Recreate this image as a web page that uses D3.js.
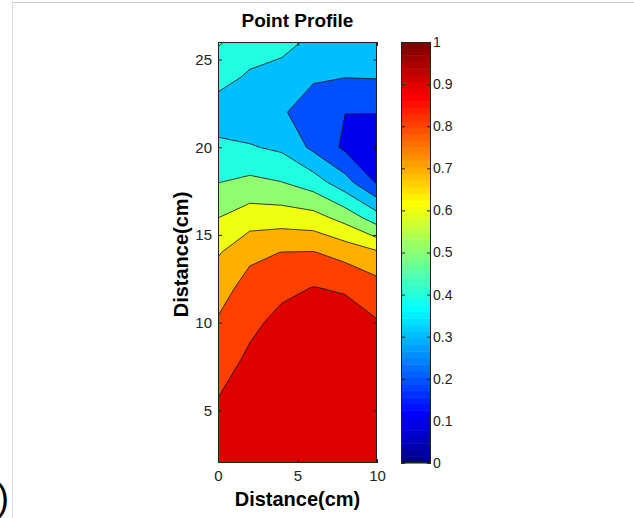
<!DOCTYPE html>
<html lang="en">

<head>
    <meta charset="UTF-8">
    <title>Point Profile</title>
    <style>
        * {
            margin: 0;
            padding: 0;
        }

        html,
        body {
            overflow: hidden;
            background: #fff;
        }
    </style>
</head>

<body>
    <div id="chart"></div>
    <script src="https://cdn.jsdelivr.net/npm/d3@7"></script>
    <script>
        // measuring grid (cm)
        const xs = [0, 2, 4, 6, 8, 10]
        const ys = [2, 4, 6, 8, 10, 12, 14, 16, 18, 20, 22, 24, 26]

        // profile value along each column, from y = 2 up to y = 26
        const colX0 = [0.940, 0.919, 0.897, 0.854, 0.811, 0.755, 0.691, 0.598, 0.498, 0.420, 0.350, 0.437, 0.510]
        const colX2 = [0.960, 0.945, 0.930, 0.915, 0.880, 0.840, 0.775, 0.652, 0.523, 0.408, 0.330, 0.386, 0.450]
        const colX4 = [0.970, 0.960, 0.950, 0.935, 0.925, 0.880, 0.802, 0.652, 0.502, 0.382, 0.310, 0.363, 0.430]
        const colX6 = [0.970, 0.965, 0.955, 0.940, 0.925, 0.902, 0.805, 0.636, 0.450, 0.277, 0.256, 0.310, 0.380]
        const colX8 = [0.970, 0.965, 0.955, 0.940, 0.940, 0.890, 0.764, 0.5625, 0.3375, 0.181, 0.201, 0.302, 0.310]
        const colX10 = [0.965, 0.955, 0.940, 0.925, 0.907, 0.840, 0.715, 0.443, 0.189, 0.090, 0.205, 0.305, 0.330]

        const levels = [0.1, 0.2, 0.3, 0.4, 0.5, 0.6, 0.7, 0.8, 0.9]
        const xTicks = [0, 5, 10]
        const yTicks = [5, 10, 15, 20, 25]
        const cbTicks = [0, 0.1, 0.2, 0.3, 0.4, 0.5, 0.6, 0.7, 0.8, 0.9, 1]

        // matlab jet(64)
        function jet64() {
            const u = d3.range(1, 17).map(d => d / 16)
                .concat(d3.range(15).map(() => 1))
                .concat(d3.range(16, 0, -1).map(d => d / 16))
            const rows = []
            for (let k = 1; k <= 64; k++) {
                const r = k >= 25 ? u[k - 25] : 0
                const g = k >= 9 && k <= 55 ? u[k - 9] : 0
                const b = k <= 39 ? u[k + 7] : 0
                rows.push(d3.rgb(r * 255, g * 255, b * 255).formatHex())
            }
            return rows
        }

        function drawChart() {
            const width = 634
            const height = 518
            const font = "'Liberation Sans', Arial, Helvetica, sans-serif"
            const jet = jet64()
            const colorOf = v => jet[Math.max(0, Math.min(63, Math.floor(v * 64)))]

            const svg = d3.select('#chart')
                .append('svg')
                .attr('width', width)
                .attr('height', height)
                .style('background-color', '#fff')

            // screenshot edges
            svg.append('line')
                .attr('x1', 12).attr('y1', 2.5).attr('x2', width).attr('y2', 2.5)
                .attr('stroke', '#c8c8c8')
            svg.append('line')
                .attr('x1', 12.5).attr('y1', 2).attr('x2', 12.5).attr('y2', height)
                .attr('stroke', '#dadada')
            svg.append('text')
                .attr('x', 9)
                .attr('y', 510)
                .attr('text-anchor', 'end')
                .style('font-family', font)
                .style('font-size', '36px')
                .text(')')

            const plot = { left: 218, right: 377, top: 42, bottom: 463 }

            const x = d3.scaleLinear().domain([0, 10]).range([plot.left, plot.right])
            const y = d3.scaleLinear().domain([2, 26]).range([plot.bottom, plot.top])

            // grid index -> data units (d3.contours puts sample i at i + 0.5)
            const gx = d3.scaleLinear().domain([0.5, xs.length - 0.5]).range([xs[0], xs[xs.length - 1]])
            const gy = d3.scaleLinear().domain([0.5, ys.length - 0.5]).range([ys[0], ys[ys.length - 1]])

            const columns = [colX0, colX2, colX4, colX6, colX8, colX10]
            const values = []
            ys.forEach((yy, j) => {
                xs.forEach((xx, i) => {
                    values.push(columns[i][j])
                })
            })

            const contours = d3.contours()
                .size([xs.length, ys.length])
                .thresholds(levels)(values)

            const toPx = d3.geoTransform({
                point: function (px, py) {
                    this.stream.point(x(gx(px)), y(gy(py)))
                }
            })
            const path = d3.geoPath(toPx)

            svg.append('clipPath')
                .attr('id', 'plot-clip')
                .append('rect')
                .attr('x', plot.left)
                .attr('y', plot.top)
                .attr('width', plot.right - plot.left)
                .attr('height', plot.bottom - plot.top)

            const field = svg.append('g')
                .attr('clip-path', 'url(#plot-clip)')

            field.append('rect')
                .attr('x', plot.left)
                .attr('y', plot.top)
                .attr('width', plot.right - plot.left)
                .attr('height', plot.bottom - plot.top)
                .attr('fill', colorOf(0))

            field.selectAll('path')
                .data(contours)
                .join('path')
                .attr('d', path)
                .attr('fill', d => colorOf(d.value))
                .attr('stroke', '#111')
                .attr('stroke-width', 0.8)
                .attr('stroke-linejoin', 'round')

            // axes, ticks pointing inwards like matlab
            const tickColor = '#222'
            const styleAxis = g => {
                g.select('.domain').remove()
                g.selectAll('line').attr('stroke', tickColor)
                g.selectAll('text')
                    .attr('fill', '#222')
                    .style('font-family', font)
                    .style('font-size', '15px')
            }

            svg.append('g')
                .attr('transform', `translate(${plot.left}, 0)`)
                .call(d3.axisLeft(y).tickValues(yTicks).tickSize(-4).tickPadding(6))
                .call(styleAxis)

            svg.append('g')
                .attr('transform', `translate(${plot.right}, 0)`)
                .call(d3.axisRight(y).tickValues(yTicks).tickSize(-4).tickFormat(''))
                .call(styleAxis)

            svg.append('g')
                .attr('transform', `translate(0, ${plot.bottom})`)
                .call(d3.axisBottom(x).tickValues(xTicks).tickSize(-4).tickPadding(7))
                .call(styleAxis)

            svg.append('g')
                .attr('transform', `translate(0, ${plot.top})`)
                .call(d3.axisTop(x).tickValues(xTicks).tickSize(-4).tickFormat(''))
                .call(styleAxis)

            svg.append('rect')
                .attr('x', plot.left + 0.5)
                .attr('y', plot.top + 0.5)
                .attr('width', plot.right - plot.left - 1)
                .attr('height', plot.bottom - plot.top - 1)
                .attr('fill', 'none')
                .attr('stroke', '#222')

            // titles
            svg.append('text')
                .attr('x', (plot.left + plot.right) / 2)
                .attr('y', 27)
                .attr('text-anchor', 'middle')
                .style('font-family', font)
                .style('font-weight', 'bold')
                .style('font-size', '19px')
                .text('Point Profile')

            svg.append('text')
                .attr('x', (plot.left + plot.right) / 2)
                .attr('y', 506)
                .attr('text-anchor', 'middle')
                .style('font-family', font)
                .style('font-weight', 'bold')
                .style('font-size', '20px')
                .text('Distance(cm)')

            svg.append('text')
                .attr('transform', `translate(188, ${(plot.top + plot.bottom) / 2 + 2}) rotate(-90)`)
                .attr('text-anchor', 'middle')
                .style('font-family', font)
                .style('font-weight', 'bold')
                .style('font-size', '20px')
                .text('Distance(cm)')

            // colorbar
            const cb = { left: 401, right: 431 }
            const c = d3.scaleLinear().domain([0, 1]).range([plot.bottom, plot.top])

            svg.append('g')
                .selectAll('rect')
                .data(d3.range(64))
                .join('rect')
                .attr('x', cb.left)
                .attr('y', d => c((d + 1) / 64))
                .attr('width', cb.right - cb.left)
                .attr('height', d => c(d / 64) - c((d + 1) / 64) + 0.5)
                .attr('fill', d => jet[d])

            svg.append('g')
                .attr('transform', `translate(${cb.right}, 0)`)
                .call(d3.axisRight(c).tickValues(cbTicks).tickSize(-4).tickPadding(2).tickFormat(d3.format('')))
                .call(styleAxis)
                .call(g => g.selectAll('text').style('font-size', '14px'))

            svg.append('g')
                .attr('transform', `translate(${cb.left}, 0)`)
                .call(d3.axisLeft(c).tickValues(cbTicks).tickSize(-4).tickFormat(''))
                .call(styleAxis)

            svg.append('rect')
                .attr('x', cb.left + 0.5)
                .attr('y', plot.top + 0.5)
                .attr('width', cb.right - cb.left - 1)
                .attr('height', plot.bottom - plot.top - 1)
                .attr('fill', 'none')
                .attr('stroke', '#222')
        }

        drawChart()
    </script>
</body>

</html>
